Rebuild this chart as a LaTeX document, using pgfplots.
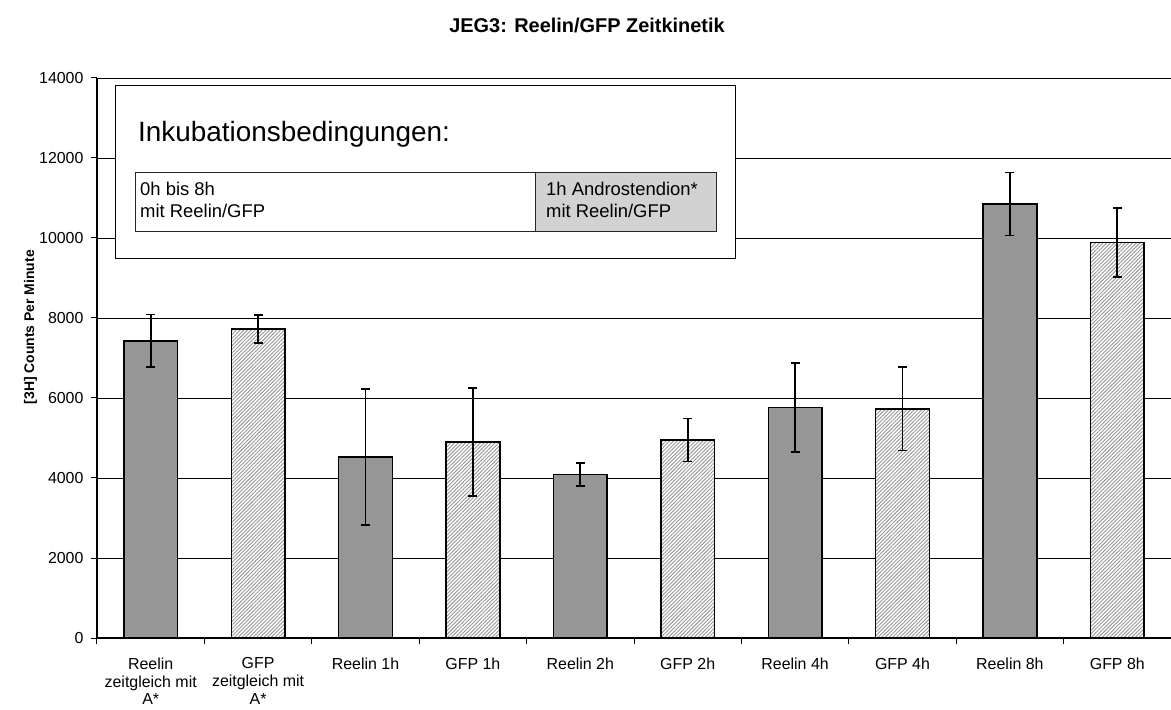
\documentclass[border=0pt]{standalone}
\usepackage{pgfplots}
\pgfplotsset{compat=1.18}
\usetikzlibrary{patterns,patterns.meta}
\usepackage{fontspec}
\setmainfont{Liberation Sans}
\definecolor{barGray}{RGB}{150,150,150}
\definecolor{hatchGray}{RGB}{150,150,150}
\definecolor{legGray}{RGB}{210,210,210}

\pgfplotstableread{
x y e
0 7430 655
2 4530 1700
4 4090 290
6 5760 1110
8 10850 790
}\reelin
\pgfplotstableread{
x y e
1 7725 342
3 4900 1350
5 4950 540
7 5730 1045
9 9885 867
}\gfp

\begin{document}
\begin{tikzpicture}
\useasboundingbox (-97bp,-72bp) rectangle (1074bp,638bp);
\begin{axis}[
  at={(0,0)}, anchor=south west,
  scale only axis, width=1074bp, height=560bp,
  xmin=-0.5, xmax=9.5, ymin=0, ymax=14000,
  ytick={0,2000,...,14000},
  scaled y ticks=false,
  xtick={-0.5,0.5,...,9.5}, xticklabels={},
  extra x ticks={0,1,...,9},
  extra x tick labels={{Reelin\\zeitgleich mit\\A*},{GFP\\zeitgleich mit\\A*},Reelin 1h,GFP 1h,Reelin 2h,GFP 2h,Reelin 4h,GFP 4h,Reelin 8h,GFP 8h},
  extra x tick style={major tick length=0pt, xticklabel style={align=center, font=\fontsize{16}{18}\selectfont, anchor=north, yshift=-16bp}},
  axis x line*=bottom, axis y line*=left,
  ymajorgrids, grid style={black, line width=0.8bp},
  tick align=outside, major tick length=6bp,
  tick style={black, line width=1bp},
  axis line style={black, line width=1.2bp},
  yticklabel style={font=\fontsize{16}{18}\selectfont, /pgf/number format/assume math mode=true, /pgf/number format/1000 sep={}, xshift=-4bp},
  ylabel={[3H] Counts Per Minute},
  ylabel style={font=\fontsize{14}{16}\selectfont\bfseries, at={(axis description cs:-0.062,0.555)}, anchor=center},
]
\addplot[ybar, bar width=0.5, bar shift=0pt, fill=barGray, draw=black, line width=1.5bp,
  error bars/.cd, y dir=both, y explicit,
  error bar style={line width=1.7bp, black},
  error mark options={rotate=90, mark size=4.5bp, line width=1.7bp, black}]
  table[x=x, y=y, y error=e] {\reelin};
\addplot[ybar, bar width=0.5, bar shift=0pt, fill=white, draw=black, line width=1.5bp,
  postaction={pattern={Lines[angle=45, distance=2.6bp, line width=0.9bp]}, pattern color=hatchGray},
  error bars/.cd, y dir=both, y explicit,
  error bar style={line width=1.7bp, black},
  error mark options={rotate=90, mark size=4.5bp, line width=1.7bp, black}]
  table[x=x, y=y, y error=e] {\gfp};
\end{axis}
% legend-like annotation box
\draw[black, line width=1bp, fill=white] (18bp,379bp) rectangle (638bp,552bp);
\node[anchor=base west, inner sep=0pt, font=\fontsize{28}{30}\selectfont] at (41bp,496bp) {Inkubationsbedingungen:};
\draw[line width=1bp, black!85, fill=white] (38bp,406bp) rectangle (438bp,465bp);
\draw[line width=1bp, black!85, fill=legGray] (438bp,406bp) rectangle (619bp,465bp);
\begin{scope}[every node/.style={anchor=base west, inner sep=0pt, font=\fontsize{18.5}{20}\selectfont}]
\node at (43bp,442bp) {0h bis 8h};
\node at (43bp,420bp) {mit Reelin/GFP};
\node at (449bp,442bp) {1h Androstendion*};
\node at (449bp,420bp) {mit Reelin/GFP};
\end{scope}
\node[font=\fontsize{20}{22}\selectfont\bfseries] at (490bp,613bp) {JEG3: Reelin/GFP Zeitkinetik};
\end{tikzpicture}
\end{document}
